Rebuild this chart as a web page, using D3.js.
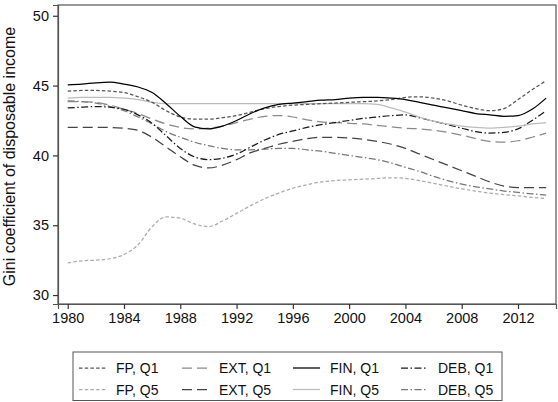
<!DOCTYPE html>
<html>
<head>
<meta charset="utf-8">
<script src="https://cdn.jsdelivr.net/npm/d3@7"></script>
<style>
  body { margin: 0; background: #fff; }
  svg { display: block; font-family: "Liberation Sans", Arial, sans-serif; }
</style>
</head>
<body>
<script>
// data
var years = d3.range(1980, 2015);
var fpQ1 = [44.6, 44.65, 44.65, 44.6, 44.5, 44.2, 43.8, 43.2, 42.75, 42.6, 42.6, 42.7, 42.85, 43.1, 43.35, 43.5, 43.6, 43.65, 43.7, 43.75, 43.8, 43.85, 43.9, 44.0, 44.15, 44.2, 44.1, 43.9, 43.6, 43.35, 43.2, 43.35, 44.0, 44.7, 45.35];
var fpQ5 = [32.3, 32.45, 32.5, 32.6, 32.9, 33.6, 34.9, 35.6, 35.5, 35.1, 34.9, 35.3, 35.85, 36.4, 36.9, 37.3, 37.65, 37.9, 38.1, 38.2, 38.25, 38.3, 38.35, 38.4, 38.35, 38.2, 38.0, 37.8, 37.6, 37.45, 37.3, 37.2, 37.1, 37.0, 36.9];
var extQ1 = [43.85, 43.85, 43.8, 43.6, 43.3, 43.0, 42.6, 42.25, 42.0, 41.9, 41.95, 42.1, 42.35, 42.6, 42.8, 42.85, 42.75, 42.55, 42.4, 42.35, 42.3, 42.25, 42.15, 42.05, 41.95, 41.9, 41.8, 41.65, 41.45, 41.2, 41.0, 40.95, 41.05, 41.3, 41.6];
var extQ5 = [42.0, 42.0, 42.0, 42.0, 41.95, 41.8, 41.3, 40.6, 39.9, 39.3, 39.1, 39.3, 39.7, 40.2, 40.5, 40.8, 41.0, 41.2, 41.3, 41.3, 41.25, 41.15, 41.0, 40.8, 40.5, 40.1, 39.7, 39.3, 38.9, 38.5, 38.1, 37.8, 37.7, 37.7, 37.7];
var finQ1 = [45.05, 45.1, 45.2, 45.25, 45.1, 44.9, 44.5, 43.7, 42.8, 42.05, 41.9, 42.1, 42.5, 43.0, 43.4, 43.65, 43.75, 43.85, 43.95, 44.0, 44.1, 44.15, 44.15, 44.1, 44.0, 43.8, 43.6, 43.4, 43.2, 43.0, 42.9, 42.8, 42.85, 43.3, 44.1];
var finQ5 = [44.1, 44.15, 44.15, 44.15, 44.1, 44.0, 43.8, 43.7, 43.7, 43.7, 43.7, 43.7, 43.7, 43.7, 43.7, 43.7, 43.7, 43.7, 43.7, 43.7, 43.7, 43.7, 43.65, 43.4, 43.1, 42.75, 42.45, 42.25, 42.1, 42.0, 41.95, 42.0, 42.1, 42.25, 42.35];
var debQ1 = [43.4, 43.45, 43.5, 43.45, 43.3, 42.9, 42.3, 41.4, 40.5, 39.9, 39.7, 39.8, 40.1, 40.6, 41.1, 41.5, 41.75, 42.0, 42.2, 42.35, 42.5, 42.65, 42.75, 42.85, 42.9, 42.7, 42.45, 42.2, 41.95, 41.7, 41.6, 41.65, 41.9, 42.5, 43.2];
var debQ5 = [43.9, 43.85, 43.75, 43.5, 43.2, 42.75, 42.25, 41.7, 41.3, 40.95, 40.7, 40.5, 40.4, 40.4, 40.45, 40.5, 40.5, 40.4, 40.3, 40.15, 40.0, 39.85, 39.7, 39.45, 39.15, 38.85, 38.5, 38.2, 37.95, 37.75, 37.6, 37.45, 37.35, 37.25, 37.15];
var seriesNames = ["FP, Q1", "EXT, Q1", "FIN, Q1", "DEB, Q1", "FP, Q5", "EXT, Q5", "FIN, Q5", "DEB, Q5"];
var xTicks = [1980, 1984, 1988, 1992, 1996, 2000, 2004, 2008, 2012];
var yTicks = [30, 35, 40, 45, 50];
var yTitle = "Gini coefficient of disposable income";

// line styles per series (same order as seriesNames)
var series = [
    { name: seriesNames[0], values: fpQ1, color: "#555", dash: "3.5,2.2" },
    { name: seriesNames[1], values: extQ1, color: "#8a8a8a", dash: "10,5" },
    { name: seriesNames[2], values: finQ1, color: "#000", dash: null },
    { name: seriesNames[3], values: debQ1, color: "#1a1a1a", dash: "7,2.5,1.5,2.5" },
    { name: seriesNames[4], values: fpQ5, color: "#aaa", dash: "3.5,2.2" },
    { name: seriesNames[5], values: extQ5, color: "#444", dash: "10,5" },
    { name: seriesNames[6], values: finQ5, color: "#bcbcbc", dash: null },
    { name: seriesNames[7], values: debQ5, color: "#777", dash: "7,2.5,1.5,2.5" }
];

var W = 558, H = 402;
var svg = d3.select("body")
    .append("svg")
    .attr("width", W)
    .attr("height", H);

// plot area (avoid the name "top", it is window.top)
var pL = 58, pR = 556, pT = 5, pB = 304;
var xScale = d3.scaleLinear()
    .domain([1979.31, 2014.70])
    .range([pL, pR]);
var yScale = d3.scaleLinear()
    .domain([29.36, 50.77])
    .range([pB, pT]);

// frame
svg.append("rect")
    .attr("x", pL)
    .attr("y", pT)
    .attr("width", pR - pL)
    .attr("height", pB - pT)
    .attr("fill", "none")
    .attr("stroke", "#555")
    .attr("stroke-width", 1.2);

// axes
var xAxis = d3.axisBottom(xScale).tickValues(xTicks).tickFormat(d3.format("d")).tickSize(5).tickPadding(4);
var yAxis = d3.axisLeft(yScale).tickValues(yTicks).tickSize(5).tickPadding(4);
var gx = svg.append("g")
    .attr("transform", "translate(0," + pB + ")")
    .call(xAxis);
var gy = svg.append("g")
    .attr("transform", "translate(" + pL + ",0)")
    .call(yAxis);
[gx, gy].forEach(function (g) {
    g.select(".domain").attr("stroke", "#555").attr("stroke-width", 1.2);
    g.selectAll(".tick line").attr("stroke", "#333").attr("stroke-width", 1.2);
    g.selectAll(".tick text")
        .attr("font-size", "14.5px")
        .attr("font-family", "Liberation Sans, Arial, sans-serif")
        .attr("fill", "#111");
});

// y title
svg.append("text")
    .attr("transform", "translate(15," + ((pT + pB) / 2 + 2) + ") rotate(-90)")
    .attr("text-anchor", "middle")
    .attr("font-size", "16px")
    .attr("fill", "#111")
    .text(yTitle);

// lines
var line = d3.line()
    .x(function (d, i) { return xScale(years[i]); })
    .y(function (d) { return yScale(d); })
    .curve(d3.curveMonotoneX);

var drawOrder = [4, 7, 5, 1, 3, 6, 0, 2];
drawOrder.forEach(function (k) {
    var s = series[k];
    svg.append("path")
        .datum(s.values)
        .attr("d", line)
        .attr("fill", "none")
        .attr("stroke", s.color)
        .attr("stroke-width", 1.25)
        .attr("stroke-dasharray", s.dash);
});

// legend
var lg = svg.append("g");
lg.append("rect")
    .attr("x", 73)
    .attr("y", 352)
    .attr("width", 429)
    .attr("height", 48.5)
    .attr("fill", "none")
    .attr("stroke", "#555")
    .attr("stroke-width", 1);
var colX = [79, 182, 293, 401];
var rowY = [368, 389.5];
series.forEach(function (s, i) {
    var cx = colX[i % 4], cy = rowY[Math.floor(i / 4)];
    lg.append("line")
        .attr("x1", cx)
        .attr("x2", cx + 27)
        .attr("y1", cy)
        .attr("y2", cy)
        .attr("stroke", s.color)
        .attr("stroke-width", 1.25)
        .attr("stroke-dasharray", s.dash);
    lg.append("text")
        .attr("x", cx + 37)
        .attr("y", cy + 5)
        .attr("font-size", "14px")
        .attr("fill", "#111")
        .text(s.name);
});
</script>
</body>
</html>
